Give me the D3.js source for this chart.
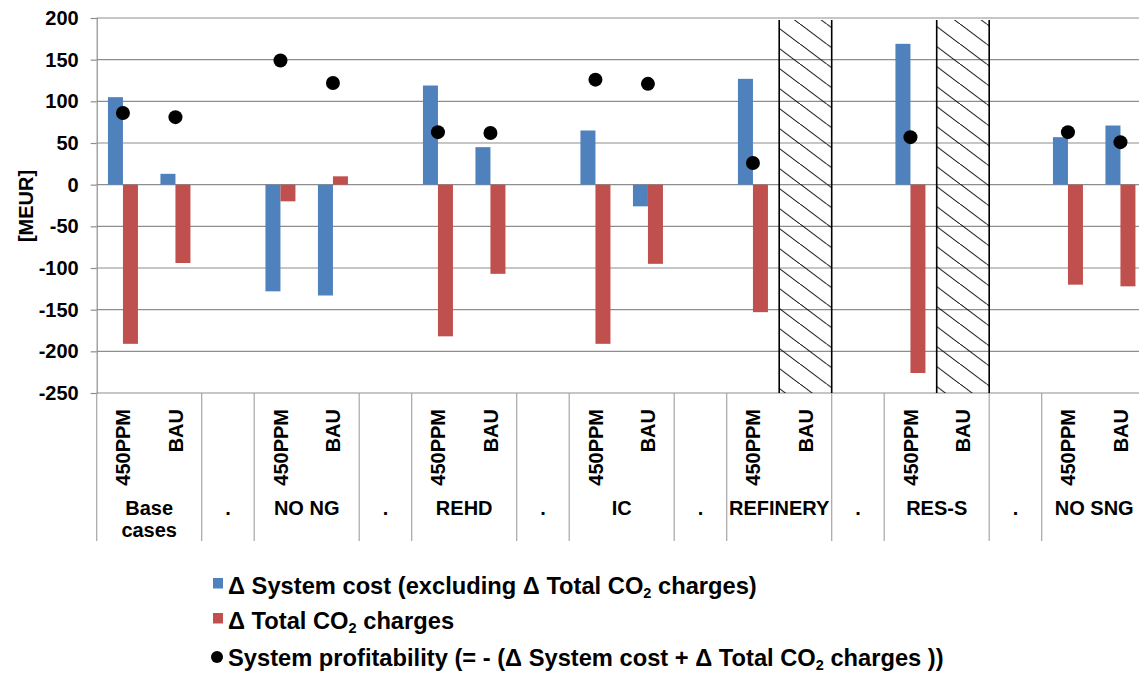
<!DOCTYPE html>
<html>
<head>
<meta charset="utf-8">
<script src="https://cdn.jsdelivr.net/npm/d3@7/dist/d3.min.js"></script>
<style>
  html, body { margin: 0; padding: 0; background: #fff; }
  svg { display: block; font-family: "Liberation Sans", Arial, sans-serif; font-weight: bold; }
</style>
</head>
<body>
<svg id="chart" width="1139" height="674"></svg>
<script>
// Scenario groups and the two cases in each
const groups = ["Base cases", "NO NG", "REHD", "IC", "REFINERY", "RES-S", "NO SNG"];
const scenarios = ["450PPM", "BAU"];

// Values in MEUR, one per group/scenario pair (null = case not modelled)
const systemCost    = [105, 13, -128, -133, 119, 45, 65, -26, 127, null, 169, null, 57, 71];
const co2Charges    = [-191, -94, -20, 10, -182, -107, -191, -95, -153, null, -226, null, -120, -122];
const profitability = [86, 81, 149, 122, 63, 62, 126, 121, 26, null, 57, null, 63, 51];

const yTicks = [-250, -200, -150, -100, -50, 0, 50, 100, 150, 200];

const BLUE = "#4F81BD", RED = "#C0504D", GRID = "#8e8e8e";

// Build category slots: each group has two scenario slots, groups separated by a "." slot
const slots = [];
const records = [];
groups.forEach((g, gi) => {
  scenarios.forEach((s, si) => {
    const i = gi * 2 + si;
    const key = g + "|" + s;
    slots.push({ key, group: g, scenario: s, spacer: false });
    records.push({ key, group: g, scenario: s,
      cost: systemCost[i], co2: co2Charges[i], profit: profitability[i] });
  });
  if (gi < groups.length - 1) slots.push({ key: "sep" + gi, spacer: true });
});

const svg = d3.select("#chart");
const plot = { left: 96.7, right: 1146.7, top: 18, bottom: 393 };

const x = d3.scaleBand().domain(slots.map(d => d.key)).range([plot.left, plot.right]).padding(0);
const xSub = d3.scaleBand().domain(["cost", "co2"]).range([0, x.bandwidth()]).paddingInner(0).paddingOuter(0.75);
const y = d3.scaleLinear().domain([-250, 200]).range([plot.bottom, plot.top]);

// Hatch pattern for cases without results
const defs = svg.append("defs");
const pat = defs.append("pattern")
  .attr("id", "hatch").attr("patternUnits", "userSpaceOnUse")
  .attr("width", 80 / 3).attr("height", 20)
  .attr("patternTransform", "translate(0,4)");
pat.append("line").attr("x1", -80 / 3).attr("y1", -20).attr("x2", 160 / 3).attr("y2", 40)
  .attr("stroke", "#000").attr("stroke-width", 1);

// Horizontal gridlines
svg.append("g").selectAll("line").data(yTicks).join("line")
  .attr("x1", plot.left).attr("x2", plot.right)
  .attr("y1", d => y(d)).attr("y2", d => y(d))
  .attr("stroke", GRID).attr("stroke-width", 1.2);

// Y axis
const yAxis = svg.append("g").attr("transform", `translate(${plot.left},0)`)
  .call(d3.axisLeft(y).tickValues(yTicks).tickSize(6).tickPadding(12).tickFormat(d => String(d)));
yAxis.attr("font-size", 20).attr("font-family", null);
yAxis.select(".domain").attr("stroke", GRID).attr("stroke-width", 1.2);
yAxis.selectAll(".tick line").attr("stroke", GRID).attr("stroke-width", 1.2);
yAxis.selectAll(".tick text").attr("fill", "#000").attr("font-weight", "bold");

svg.append("text")
  .attr("transform", `translate(33,206) rotate(-90)`)
  .attr("text-anchor", "middle").attr("font-size", 20).text("[MEUR]");

// Hatched areas for missing cases
const missing = records.filter(d => d.cost === null);
svg.append("g").selectAll("rect").data(missing).join("rect")
  .attr("x", d => x(d.key)).attr("width", x.bandwidth())
  .attr("y", y(200) + 2).attr("height", y(-250) - y(200) - 2)
  .attr("fill", "url(#hatch)");
svg.append("g").selectAll("path").data(missing).join("path")
  .attr("d", d => `M${x(d.key)},${y(200) + 2}V${y(-250)}M${x(d.key) + x.bandwidth()},${y(200) + 2}V${y(-250)}`)
  .attr("stroke", "#000").attr("stroke-width", 1.6).attr("fill", "none");

// Bars
const present = records.filter(d => d.cost !== null);
svg.append("g").selectAll("rect").data(present).join("rect")
  .attr("x", d => x(d.key) + xSub("cost")).attr("width", xSub.bandwidth())
  .attr("y", d => y(Math.max(0, d.cost))).attr("height", d => Math.abs(y(d.cost) - y(0)))
  .attr("fill", BLUE);
svg.append("g").selectAll("rect").data(present).join("rect")
  .attr("x", d => x(d.key) + xSub("co2")).attr("width", xSub.bandwidth())
  .attr("y", d => y(Math.max(0, d.co2))).attr("height", d => Math.abs(y(d.co2) - y(0)))
  .attr("fill", RED);

// Profitability markers
svg.append("g").selectAll("circle").data(present).join("circle")
  .attr("cx", d => x(d.key) + x.bandwidth() / 2).attr("cy", d => y(d.profit))
  .attr("r", 7).attr("fill", "#000");

// Category axis: group separators
const sepXs = [plot.left];
groups.forEach((g, gi) => {
  sepXs.push(x(g + "|BAU") + x.bandwidth());
  if (gi < groups.length - 1) sepXs.push(x("sep" + gi) + x.bandwidth());
});
svg.append("g").selectAll("line").data(sepXs).join("line")
  .attr("x1", d => d).attr("x2", d => d).attr("y1", plot.bottom).attr("y2", 541)
  .attr("stroke", "#a6a6a6").attr("stroke-width", 1.2);

// Scenario labels (rotated)
svg.append("g").selectAll("text").data(records).join("text")
  .attr("transform", d => `translate(${x(d.key) + x.bandwidth() / 2 + 7.5},409) rotate(-90)`)
  .attr("text-anchor", "end").attr("font-size", 20).text(d => d.scenario);

// Group labels
groups.forEach((g, gi) => {
  const cx = x(g + "|450PPM") + x.bandwidth();
  const lines = g === "Base cases" ? ["Base", "cases"] : [g];
  lines.forEach((t, li) => {
    svg.append("text").attr("x", cx).attr("y", 515 + li * 22)
      .attr("text-anchor", "middle").attr("font-size", 20).text(t);
  });
  if (gi < groups.length - 1) {
    svg.append("text").attr("x", x("sep" + gi) + x.bandwidth() / 2).attr("y", 515)
      .attr("text-anchor", "middle").attr("font-size", 20).text(".");
  }
});

// Legend
const legend = svg.append("g").attr("font-size", 23.7);
const rows = [
  { type: "rect", color: BLUE, text: "Δ System cost (excluding Δ Total CO", tail: " charges)", y: 594 },
  { type: "rect", color: RED, text: "Δ Total CO", tail: " charges", y: 629 },
  { type: "circle", color: "#000", text: "System profitability (= - (Δ System cost + Δ Total CO", tail: " charges ))", y: 666 }
];
rows.forEach(r => {
  if (r.type === "rect") {
    legend.append("rect").attr("x", 213).attr("y", r.y - 16).attr("width", 10).attr("height", 10.5).attr("fill", r.color);
  } else {
    legend.append("circle").attr("cx", 217).attr("cy", r.y - 9).attr("r", 6).attr("fill", r.color);
  }
  const t = legend.append("text").attr("x", 228).attr("y", r.y);
  t.append("tspan").text(r.text);
  t.append("tspan").attr("font-size", 14.5).attr("dy", 4).text("2");
  t.append("tspan").attr("dy", -4).text(r.tail);
});
</script>
</body>
</html>
